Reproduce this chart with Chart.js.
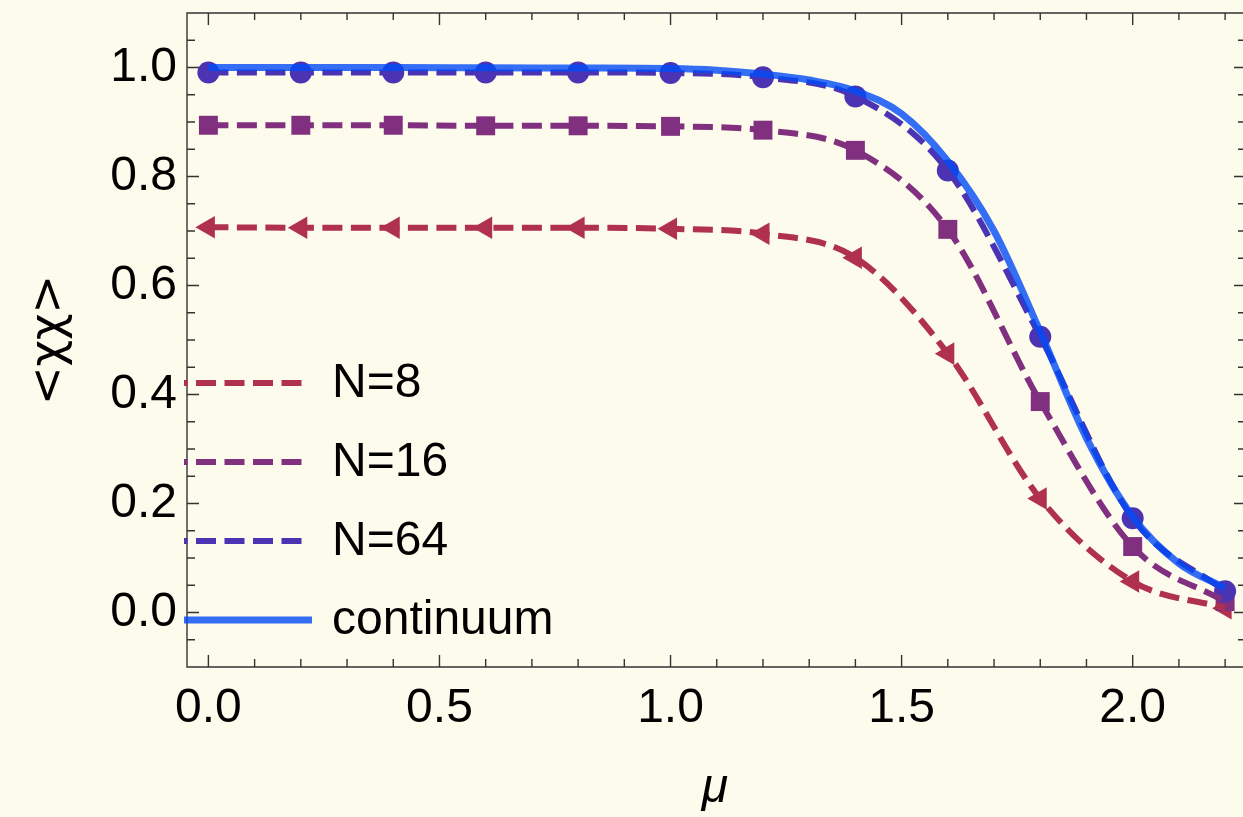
<!DOCTYPE html>
<html>
<head>
<meta charset="utf-8">
<script src="https://cdn.jsdelivr.net/npm/chart.js@4.4.1/dist/chart.umd.min.js"></script>
<style>
  html, body { margin: 0; padding: 0; background: #fdfbec; }
  canvas { display: block; }
</style>
</head>
<body>
<canvas id="chi" width="1243" height="817"></canvas>
<script>
// sample points (mu) and the three lattice sizes
const mu = [0, 0.2, 0.4, 0.6, 0.8, 1.0, 1.2, 1.4, 1.6, 1.8, 2.0, 2.2];
const n8 = [0.707, 0.706, 0.706, 0.706, 0.706, 0.704, 0.695, 0.651, 0.475, 0.209, 0.057, 0.008];
const n16 = [0.894, 0.894, 0.894, 0.893, 0.893, 0.892, 0.885, 0.848, 0.703, 0.387, 0.121, 0.020];
const n64 = [0.991, 0.991, 0.991, 0.991, 0.991, 0.990, 0.982, 0.947, 0.811, 0.506, 0.173, 0.039];

const muC = [0, 0.2, 0.4, 0.6, 0.8, 1.0, 1.1, 1.2, 1.3, 1.4, 1.5, 1.6, 1.7, 1.8, 1.9, 2.0, 2.1, 2.2];
const cont = [1.0, 1.0, 1.0, 0.9995, 0.999, 0.998, 0.995, 0.988, 0.977, 0.957, 0.915, 0.828, 0.700, 0.515, 0.320, 0.176, 0.090, 0.045];

const xTicks = [0, 0.5, 1.0, 1.5, 2.0];
const yTicks = [0, 0.2, 0.4, 0.6, 0.8, 1.0];

const C8 = '#b0304f';
const C16 = '#80307f';
const C64 = '#4a34b4';
const CCONT = 'rgba(0, 75, 248, 0.8)';
const FONT = '"Liberation Sans", Arial, sans-serif';

const pts = (xs, ys) => xs.map((v, i) => ({ x: v, y: ys[i] }));

const lineSet = (label, xs, ys, color, dash, width) => ({
  label,
  data: pts(xs, ys),
  showLine: true,
  borderColor: color,
  borderWidth: width,
  borderDash: dash,
  cubicInterpolationMode: 'monotone',
  pointRadius: 0,
  fill: false
});

const markSet = (xs, ys, color, style, r, rot) => ({
  label: '',
  data: pts(xs, ys),
  showLine: false,
  pointStyle: style,
  pointRadius: r,
  pointRotation: rot || 0,
  pointBackgroundColor: color,
  pointBorderWidth: 0,
  borderColor: color
});

// drop the label overhang padding chart.js reserves, so the plot box lands where it should
const noPad = s => { s.paddingTop = 0; s.paddingBottom = 0; s.paddingLeft = 0; s.paddingRight = 0; };

// frame, inward ticks, legend
const framePlugin = {
  id: 'framePlugin',
  beforeDraw(chart) {
    const ctx = chart.ctx;
    ctx.save();
    ctx.fillStyle = '#fdfbec';
    ctx.fillRect(0, 0, chart.width, chart.height);
    ctx.restore();
  },
  afterDraw(chart) {
    const { ctx, chartArea: a, scales: { x, y } } = chart;
    ctx.save();
    ctx.strokeStyle = '#333';
    ctx.lineWidth = 1.4;
    ctx.beginPath();
    ctx.moveTo(a.right, a.top); ctx.lineTo(a.left, a.top);
    ctx.lineTo(a.left, a.bottom); ctx.lineTo(a.right, a.bottom);
    ctx.stroke();

    const rightEdge = a.right + 3; // frame sits just past the picture edge
    ctx.beginPath();
    for (let i = 0; i <= 22; i++) {
      const px = x.getPixelForValue(i / 10);
      const major = i % 5 === 0;
      ctx.moveTo(px, a.bottom); ctx.lineTo(px, a.bottom - (major ? 12 : 8));
      ctx.moveTo(px, a.top); ctx.lineTo(px, a.top + (major ? 12 : 7));
    }
    for (let i = -1; i <= 21; i++) {
      const py = y.getPixelForValue(i * 0.05);
      const major = i % 4 === 0;
      ctx.moveTo(a.left, py); ctx.lineTo(a.left + (major ? 12 : 8), py);
      ctx.moveTo(rightEdge - (major ? 12 : 8), py); ctx.lineTo(a.right, py);
    }
    ctx.stroke();

    // legend
    const items = [
      { label: 'N=8', color: C8, dash: [20, 8.5], w: 6, y: 383, end: 303 },
      { label: 'N=16', color: C16, dash: [20, 8.5], w: 6, y: 462, end: 303 },
      { label: 'N=64', color: C64, dash: [20, 8.5], w: 6, y: 541, end: 303 },
      { label: 'continuum', color: CCONT, dash: [], w: 7, y: 620, end: 312 }
    ];
    items.forEach(it => {
      ctx.beginPath();
      ctx.setLineDash(it.dash);
      ctx.lineDashOffset = 16.5;
      ctx.strokeStyle = it.color;
      ctx.lineWidth = it.w;
      ctx.moveTo(184, it.y); ctx.lineTo(it.end, it.y);
      ctx.stroke();
      ctx.setLineDash([]);
      ctx.fillStyle = '#000';
      ctx.font = '48px ' + FONT;
      ctx.textBaseline = 'alphabetic';
      ctx.textAlign = 'left';
      ctx.fillText(it.label, 332, it.y + 14);
    });
    ctx.restore();
  }
};

new Chart(document.getElementById('chi').getContext('2d'), {
  type: 'scatter',
  data: {
    datasets: [
      lineSet('continuum', muC, cont, CCONT, [], 7),
      lineSet('N=64', mu, n64, C64, [20, 8.5], 6),
      lineSet('N=16', mu, n16, C16, [20, 8.5], 6),
      lineSet('N=8', mu, n8, C8, [20, 8.5], 6),
      markSet(mu, n64, C64, 'circle', 11),
      markSet(mu, n16, C16, 'rect', 13.4),
      markSet(mu, n8, C8, 'triangle', 13, -90)
    ]
  },
  options: {
    responsive: false,
    devicePixelRatio: 1,
    animation: false,
    layout: { autoPadding: false, padding: { left: 0, top: 13, right: 0, bottom: 0 } },
    plugins: {
      legend: { display: false },
      tooltip: { enabled: false }
    },
    scales: {
      x: {
        type: 'linear',
        min: -0.0463,
        max: 2.2387,
        afterFit: s => { s.height = 150; noPad(s); },
        afterBuildTicks: s => { s.ticks = xTicks.map(v => ({ value: v })); },
        grid: { display: false, drawTicks: false },
        border: { display: false },
        ticks: {
          padding: 13,
          color: '#000',
          maxRotation: 0,
          autoSkip: false,
          font: { family: FONT, size: 48 },
          callback: v => v.toFixed(1)
        },
        title: {
          display: true,
          text: 'μ',
          color: '#000',
          padding: { top: 0, bottom: 0 },
          font: { family: FONT, size: 48, style: 'italic' }
        }
      },
      y: {
        type: 'linear',
        min: -0.1,
        max: 1.1,
        afterFit: s => { s.width = 187; noPad(s); },
        afterBuildTicks: s => { s.ticks = yTicks.map(v => ({ value: v })); },
        grid: { display: false, drawTicks: false },
        border: { display: false },
        ticks: {
          padding: 10,
          color: '#000',
          autoSkip: false,
          font: { family: FONT, size: 48 },
          callback: v => v.toFixed(1)
        },
        title: {
          display: true,
          text: '<χχ>',
          color: '#000',
          padding: { top: 22, bottom: 0 },
          font: { family: '"DejaVu Sans", ' + FONT, size: 46 }
        }
      }
    }
  },
  plugins: [framePlugin]
});
</script>
</body>
</html>
